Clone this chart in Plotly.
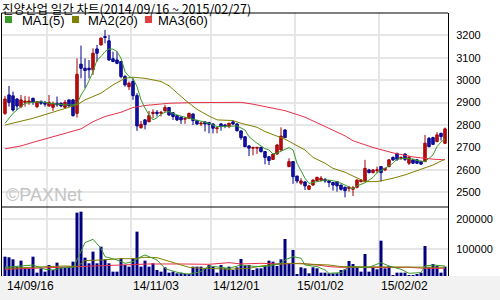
import plotly.graph_objects as go

# ---------------- data ----------------
title_text = "진양산업 일간 차트(2014/09/16 ~ 2015/02/27)"
ma_labels = ["MA1(5)", "MA2(20)", "MA3(60)"]
date_labels = ["14/09/16", "14/11/03", "14/12/01", "15/01/02", "15/02/02"]
date_label_idx = [0, 32, 52, 73, 94]
month_grid_idx = [11, 32, 52, 73, 94]
price_ticks = [2500, 2600, 2700, 2800, 2900, 3000, 3100, 3200]
volume_ticks = [100000, 200000]

open_ = [2852, 2934, 2930, 2916, 2882, 2901, 2901, 2919, 2882, 2904,
         2901, 2885, 2879, 2897, 2897, 2879, 2912, 2912, 2852, 3071,
         3053, 3053, 3046, 3139, 3157, 3193, 3175, 3095, 3090, 3083,
         3016, 2971, 2994, 2931, 2789, 2823, 2815, 2851, 2857, 2853,
         2863, 2878, 2855, 2842, 2835, 2826, 2830, 2849, 2820, 2805,
         2814, 2811, 2805, 2784, 2805, 2800, 2793, 2814, 2805, 2774,
         2748, 2707, 2697, 2697, 2700, 2682, 2659, 2647, 2671, 2689,
         2778, 2615, 2637, 2573, 2541, 2547, 2514, 2533, 2552, 2555,
         2558, 2551, 2544, 2548, 2533, 2523, 2518, 2514, 2523, 2548,
         2548, 2600, 2588, 2597, 2615, 2600, 2615, 2656, 2674, 2652,
         2671, 2630, 2645, 2645, 2638, 2637, 2741, 2744, 2726, 2763,
         2719]
high = [2930, 2974, 2949, 2920, 2934, 2930, 2927, 2922, 2907, 2910,
        2907, 2934, 2904, 2927, 2901, 2912, 2912, 2916, 3097, 3154,
        3097, 3090, 3142, 3157, 3190, 3224, 3201, 3127, 3127, 3083,
        3023, 2994, 3008, 2942, 2818, 2826, 2863, 2870, 2867, 2863,
        2890, 2880, 2857, 2845, 2838, 2835, 2855, 2852, 2823, 2815,
        2817, 2814, 2805, 2787, 2808, 2805, 2808, 2820, 2808, 2774,
        2748, 2710, 2700, 2700, 2704, 2682, 2659, 2674, 2716, 2790,
        2781, 2652, 2637, 2573, 2563, 2548, 2533, 2558, 2570, 2573,
        2563, 2555, 2547, 2548, 2533, 2526, 2529, 2529, 2558, 2560,
        2645, 2605, 2603, 2615, 2615, 2610, 2648, 2660, 2676, 2660,
        2674, 2662, 2650, 2648, 2640, 2756, 2746, 2748, 2768, 2766,
        2789]
low = [2845, 2882, 2860, 2867, 2875, 2882, 2890, 2890, 2875, 2890,
       2882, 2882, 2863, 2882, 2879, 2875, 2882, 2838, 2833, 3008,
       2964, 3008, 3023, 3083, 3154, 3164, 3086, 3080, 3071, 3008,
       2971, 2956, 2912, 2774, 2783, 2781, 2812, 2830, 2838, 2838,
       2860, 2840, 2823, 2818, 2805, 2805, 2826, 2800, 2800, 2796,
       2771, 2763, 2763, 2763, 2775, 2786, 2786, 2800, 2771, 2734,
       2701, 2662, 2665, 2671, 2677, 2625, 2622, 2645, 2667, 2686,
       2744, 2612, 2538, 2541, 2533, 2511, 2511, 2529, 2548, 2548,
       2543, 2523, 2508, 2503, 2508, 2478, 2503, 2484, 2518, 2545,
       2548, 2585, 2585, 2585, 2548, 2595, 2612, 2640, 2640, 2645,
       2640, 2622, 2628, 2628, 2622, 2637, 2701, 2711, 2724, 2731,
       2715]
close = [2916, 2901, 2867, 2885, 2912, 2907, 2907, 2901, 2904, 2897,
         2893, 2901, 2897, 2890, 2885, 2901, 2885, 2842, 3026, 3053,
         3043, 3046, 3120, 3120, 3187, 3190, 3090, 3083, 3075, 3016,
         2979, 2986, 2931, 2796, 2803, 2803, 2842, 2857, 2851, 2857,
         2878, 2845, 2838, 2823, 2823, 2830, 2852, 2820, 2805, 2808,
         2805, 2803, 2786, 2787, 2793, 2796, 2808, 2805, 2775, 2744,
         2704, 2697, 2700, 2700, 2682, 2656, 2642, 2671, 2711, 2751,
         2744, 2637, 2570, 2551, 2551, 2529, 2529, 2555, 2567, 2563,
         2551, 2544, 2533, 2529, 2514, 2508, 2523, 2520, 2555, 2555,
         2607, 2588, 2600, 2600, 2588, 2607, 2645, 2645, 2647, 2656,
         2647, 2656, 2630, 2630, 2626, 2719, 2704, 2714, 2756, 2749,
         2783]
volume = [75500, 73300, 66600, 42200, 62200, 36600, 36600, 75500, 22200, 36600,
          25500, 47700, 31100, 55500, 40000, 40000, 42200, 58800, 222200, 225500,
          72200, 53300, 92200, 53300, 108800, 66600, 53300, 25500, 25500, 70000,
          47700, 42200, 70000, 158800, 42200, 62200, 42200, 53300, 31100, 25500,
          40000, 22200, 25500, 20000, 22200, 17700, 17700, 42200, 42200, 42200,
          36600, 47700, 42200, 22200, 47700, 36600, 42200, 31100, 40000, 67700,
          44400, 47700, 31100, 36600, 36600, 44400, 62200, 58800, 44400, 66600,
          134400, 51100, 97700, 17700, 40000, 36600, 20000, 40000, 36600, 22200,
          22200, 20000, 20000, 20000, 31100, 33300, 61100, 51100, 40000, 25500,
          84400, 25500, 40000, 33300, 128800, 36600, 44400, 14400, 22200, 22200,
          22200, 14400, 14400, 17700, 22200, 111100, 40000, 51100, 44400, 22200,
          42200]

# moving averages (trading-day index, value)
ma5_idx = [0, 2, 4, 5, 7, 9, 11, 13, 15, 17, 18, 19, 20, 21, 22, 23, 24, 25, 26, 27,
           28, 29, 30, 31, 32, 33, 34, 35, 36, 37, 38, 39, 40, 41, 43, 45, 47, 51, 53, 56,
           58, 60, 61, 63, 65, 66, 67, 68, 70, 71, 72, 73, 75, 76, 78, 80, 81, 83, 85, 86,
           87, 88, 90, 92, 93, 95, 97, 98, 100, 102, 103, 105, 107, 108, 109, 110]
ma5_val = [2808, 2852, 2882, 2897, 2901, 2904, 2897, 2893, 2890, 2890, 2893, 2934, 2961, 2997, 3038, 3090, 3105, 3127, 3139, 3138,
           3127, 3097, 3038, 3016, 3008, 2971, 2912, 2875, 2845, 2823, 2833, 2848, 2857, 2860, 2845, 2835, 2826, 2808, 2793, 2793,
           2796, 2778, 2748, 2719, 2695, 2689, 2671, 2675, 2692, 2700, 2689, 2630, 2563, 2540, 2548, 2555, 2555, 2548, 2533, 2523,
           2516, 2529, 2543, 2567, 2588, 2607, 2630, 2648, 2652, 2648, 2642, 2637, 2667, 2704, 2725, 2738]
ma20_idx = [0, 2, 4, 7, 11, 15, 18, 20, 24, 27, 30, 32, 35, 39, 41, 45, 48, 51, 53, 57,
            59, 63, 65, 70, 72, 75, 77, 80, 82, 85, 87, 90, 93, 97, 100, 103, 107, 110]
ma20_val = [2800, 2808, 2815, 2830, 2852, 2872, 2890, 2912, 2942, 2979, 3008, 3013, 3008, 2994, 2975, 2912, 2870, 2840, 2823, 2820,
            2808, 2790, 2771, 2737, 2719, 2689, 2656, 2630, 2607, 2590, 2573, 2548, 2548, 2563, 2578, 2597, 2622, 2648]
ma60_idx = [0, 4, 7, 11, 15, 19, 22, 25, 29, 32, 35, 39, 41, 47, 59, 62, 65, 70, 75, 80,
            85, 87, 92, 97, 102, 107, 110]
ma60_val = [2694, 2707, 2723, 2744, 2763, 2783, 2815, 2838, 2857, 2878, 2887, 2893, 2897, 2900, 2901, 2893, 2882, 2864, 2835, 2795,
            2752, 2730, 2700, 2676, 2658, 2648, 2645]

vma5_idx = [0, 4, 7, 10, 12, 15, 17, 18, 20, 22, 24, 25, 28, 30, 32, 34, 35, 38, 40, 41,
            44, 46, 49, 51, 54, 56, 59, 61, 64, 66, 69, 70, 72, 74, 75, 78, 80, 81, 84, 86,
            89, 91, 94, 96, 99, 101, 104, 105, 107, 110]
vma5_val = [40000, 44400, 47700, 33300, 31100, 40000, 40000, 64400, 122200, 133300, 103300, 75500, 64400, 53300, 58800, 75500, 81100, 64400, 36600, 31100,
            20000, 17700, 25500, 44400, 40000, 36600, 47700, 44400, 42200, 44400, 53300, 64400, 75500, 70000, 47700, 42200, 31100, 20000, 22200, 42200,
            40000, 40000, 55500, 44400, 33300, 20000, 22200, 44400, 47700, 44400]
vma20_idx = [0, 7, 15, 18, 20, 24, 29, 32, 35, 38, 41, 44, 46, 49, 51, 56, 59, 61, 64, 66,
             69, 71, 74, 76, 79, 81, 84, 86, 91, 95, 101, 105, 110]
vma20_val = [36600, 40000, 44400, 42200, 62200, 64400, 68800, 68800, 73300, 72000, 60000, 47700, 40000, 36600, 36600, 33300, 36600, 36600, 44400, 47700,
             51100, 53300, 51100, 51100, 47700, 47700, 42200, 42200, 40000, 40000, 40000, 40000, 40000]
vma60_idx = [0, 7, 18, 24, 32, 36, 44, 51, 56, 59, 64, 69, 74, 76, 79, 81, 84, 91, 101, 105, 110]
vma60_val = [33300, 36600, 42200, 44400, 47700, 51100, 51100, 50000, 55500, 51100, 53300, 51100, 53300, 51100, 46000, 42200, 40000, 38900, 40000, 36600, 36600]

# ---------------- styles / layout geometry ----------------
W, H = 500, 300
L, R, T, B = 2, 448, 13, 276          # plot area in px
SPLIT = 207                           # price / volume divider in px
UP_FILL, UP_LINE = "#d42020", "#a00000"
DN_FILL, DN_LINE = "#2a2ad0", "#00008b"
C_MA5, C_MA20, C_MA60 = "#3a9a2a", "#808000", "#e8304a"
VOL_COLOR = "#000080"
GRID = "#e6e6e6"


def px_x(px):
    return (px - L) / (R - L)


def px_y(py):
    return (B - py) / (B - T)


n = len(close)
xs = list(range(n))
vol_dom = (B - SPLIT) / (B - T)

fig = go.Figure()

# wicks
for up in (True, False):
    wx, wy = [], []
    for i in xs:
        if (close[i] >= open_[i]) == up:
            wx += [i, i, None]
            wy += [low[i], high[i], None]
    fig.add_trace(go.Scatter(x=wx, y=wy, mode="lines", xaxis="x", yaxis="y",
                             line=dict(color=UP_LINE if up else DN_LINE, width=1),
                             hoverinfo="skip"))

# bodies
for up in (True, False):
    bx, bb, bh = [], [], []
    for i in xs:
        if (close[i] >= open_[i]) == up:
            bx.append(i)
            bb.append(min(open_[i], close[i]))
            bh.append(max(abs(close[i] - open_[i]), 4))
    fig.add_trace(go.Bar(x=bx, y=bh, base=bb, width=0.62, xaxis="x", yaxis="y",
                         marker=dict(color=UP_FILL if up else DN_FILL,
                                     line=dict(color=UP_LINE if up else DN_LINE, width=1)),
                         hoverinfo="skip"))

# price moving averages
for ix, iv, col in ((ma60_idx, ma60_val, C_MA60), (ma20_idx, ma20_val, C_MA20), (ma5_idx, ma5_val, C_MA5)):
    fig.add_trace(go.Scatter(x=ix, y=iv, mode="lines", xaxis="x", yaxis="y",
                             line=dict(color=col, width=1), hoverinfo="skip"))

# volume
fig.add_trace(go.Bar(x=xs, y=volume, width=0.75, xaxis="x", yaxis="y2",
                     marker=dict(color=VOL_COLOR, line=dict(width=0)), hoverinfo="skip"))
for ix, iv, col in ((vma60_idx, vma60_val, C_MA60), (vma20_idx, vma20_val, C_MA20), (vma5_idx, vma5_val, C_MA5)):
    fig.add_trace(go.Scatter(x=ix, y=iv, mode="lines", xaxis="x", yaxis="y2",
                             line=dict(color=col, width=1), hoverinfo="skip"))

grid_x = [i - 0.6 for i in month_grid_idx]

shapes = [
    dict(type="rect", xref="paper", yref="paper", x0=px_x(0), x1=px_x(W), y0=px_y(B), y1=px_y(H),
         fillcolor="#f2f2f2", line=dict(width=0), layer="below"),
    dict(type="line", xref="paper", yref="paper", x0=0, x1=1, y0=vol_dom, y1=vol_dom,
         line=dict(color="black", width=1)),
    dict(type="line", xref="paper", yref="paper", x0=px_x(1.5), x1=px_x(1.5), y0=0, y1=1,
         line=dict(color="black", width=1)),
    dict(type="line", xref="paper", yref="paper", x0=px_x(1.5), x1=1, y0=1, y1=1,
         line=dict(color="black", width=1)),
]
legend_cols = [C_MA5, C_MA20, "#e04040"]
legend_sq_x = [5, 72, 145]
legend_txt_x = [20, 86, 156]
annotations = [
    dict(text=title_text, xref="paper", yref="paper", x=px_x(0), y=px_y(8.5), xanchor="left",
         yanchor="middle", showarrow=False, font=dict(family="Noto Sans CJK KR", size=12.5, color="black")),
    dict(text="©PAXNet", xref="paper", yref="paper", x=px_x(4), y=px_y(195), xanchor="left",
         yanchor="middle", showarrow=False, font=dict(family="Liberation Sans", size=18, color="#c4c4c4")),
]
for lab, col, sx, tx in zip(ma_labels, legend_cols, legend_sq_x, legend_txt_x):
    shapes.append(dict(type="rect", xref="paper", yref="paper", x0=px_x(sx), x1=px_x(sx + 7),
                       y0=px_y(23), y1=px_y(16), fillcolor=col, line=dict(width=0)))
    annotations.append(dict(text=lab, xref="paper", yref="paper", x=px_x(tx), y=px_y(20),
                            xanchor="left", yanchor="middle", showarrow=False,
                            font=dict(family="Liberation Sans", size=13, color="black")))
for lab, idx in zip(date_labels, date_label_idx):
    xpos = idx - 0.6 if idx > 0 else idx
    annotations.append(dict(text=lab, xref="x", yref="paper", x=xpos, y=px_y(285.5),
                            xanchor="left", yanchor="middle", showarrow=False,
                            font=dict(family="Liberation Sans", size=12, color="black")))

fig.update_layout(
    width=W, height=H, margin=dict(l=L, r=W - R, t=T, b=H - B, pad=0),
    paper_bgcolor="white", plot_bgcolor="white", showlegend=False, barmode="overlay",
    hovermode=False, shapes=shapes, annotations=annotations,
    xaxis=dict(range=[-0.75, 110.75], domain=[0, 1], anchor="y2", tickmode="array",
               tickvals=grid_x, showticklabels=False, ticks="", showgrid=True,
               gridcolor=GRID, gridwidth=2, zeroline=False, showline=False),
    yaxis=dict(domain=[vol_dom, 1], range=[2435, 3299], side="right", anchor="x",
               tickmode="array", tickvals=price_ticks, ticks="outside", ticklen=5,
               tickcolor="rgba(0,0,0,0)", showgrid=True, gridcolor=GRID, gridwidth=2,
               zeroline=False, showline=True, linecolor="black", linewidth=1,
               tickfont=dict(family="Liberation Sans", size=11, color="black")),
    yaxis2=dict(domain=[0, vol_dom], range=[11000, 241000], side="right", anchor="x",
                tickmode="array", tickvals=volume_ticks, ticktext=[str(v) for v in volume_ticks],
                ticks="outside", ticklen=5, tickcolor="rgba(0,0,0,0)", showgrid=True,
                gridcolor=GRID, gridwidth=2, zeroline=False, showline=True, linecolor="black",
                linewidth=1, tickfont=dict(family="Liberation Sans", size=11, color="black")),
)
fig.write_html("out.html", config={"displayModeBar": False, "staticPlot": True})
